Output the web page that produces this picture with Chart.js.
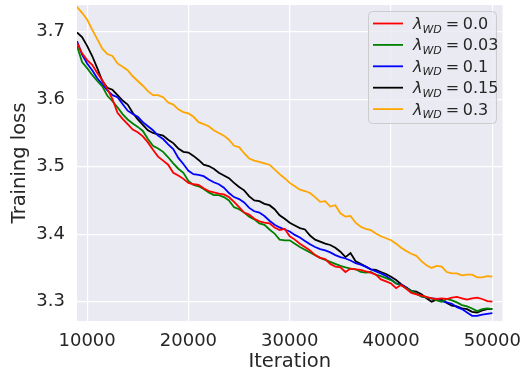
<!DOCTYPE html>
<html>
<head>
<meta charset="utf-8">
<script src="https://cdn.jsdelivr.net/npm/chart.js@4"></script>
<style>
  html, body { margin: 0; padding: 0; background: #ffffff; }
  #wrap { width: 522px; height: 374px; }
</style>
</head>
<body>
<div id="wrap"><canvas id="lossChart" width="522" height="374"></canvas></div>
<script>
// training iterations (shared by every run)
const iterations = [
  9000, 9500, 10000, 10500, 11000, 11500, 12000, 12500, 13000, 13500,
  14000, 14500, 15000, 15500, 16000, 16500, 17000, 17500, 18000, 18500,
  19000, 19500, 20000, 20500, 21000, 21500, 22000, 22500, 23000, 23500,
  24000, 24500, 25000, 25500, 26000, 26500, 27000, 27500, 28000, 28500,
  29000, 29500, 30000, 30500, 31000, 31500, 32000, 32500, 33000, 33500,
  34000, 34500, 35000, 35500, 36000, 36500, 37000, 37500, 38000, 38500,
  39000, 39500, 40000, 40500, 41000, 41500, 42000, 42500, 43000, 43500,
  44000, 44500, 45000, 45500, 46000, 46500, 47000, 47500, 48000, 48500,
  49000, 49500, 50000
];

// training loss per weight decay value
const lossWd0 = [
  3.684, 3.668, 3.658, 3.651, 3.639, 3.628, 3.615, 3.600, 3.580, 3.571,
  3.563, 3.555, 3.551, 3.545, 3.536, 3.525, 3.515, 3.509, 3.503, 3.491,
  3.487, 3.482, 3.476, 3.474, 3.473, 3.468, 3.464, 3.462, 3.460, 3.459,
  3.455, 3.448, 3.440, 3.432, 3.429, 3.423, 3.419, 3.417, 3.416, 3.410,
  3.406, 3.408, 3.397, 3.392, 3.386, 3.381, 3.376, 3.369, 3.365, 3.363,
  3.356, 3.352, 3.351, 3.344, 3.349, 3.348, 3.347, 3.345, 3.343, 3.340,
  3.333, 3.330, 3.327, 3.320, 3.325, 3.319, 3.313, 3.311, 3.309, 3.307,
  3.305, 3.304, 3.305, 3.304, 3.306, 3.307, 3.305, 3.303, 3.305, 3.306,
  3.304, 3.301, 3.300
];
const lossWd003 = [
  3.679, 3.655, 3.646, 3.636, 3.627, 3.619, 3.605, 3.597, 3.588, 3.578,
  3.570, 3.564, 3.559, 3.553, 3.541, 3.531, 3.527, 3.522, 3.514, 3.505,
  3.497, 3.491, 3.479, 3.473, 3.471, 3.467, 3.462, 3.458, 3.458, 3.455,
  3.450, 3.440, 3.437, 3.432, 3.426, 3.422, 3.416, 3.414, 3.407, 3.401,
  3.392, 3.391, 3.391, 3.386, 3.381, 3.377, 3.373, 3.369, 3.365, 3.362,
  3.359, 3.356, 3.353, 3.351, 3.349, 3.348, 3.344, 3.343, 3.344, 3.340,
  3.338, 3.335, 3.332, 3.327, 3.324, 3.320, 3.316, 3.312, 3.308, 3.306,
  3.305, 3.302, 3.300, 3.304, 3.302, 3.299, 3.295, 3.293, 3.290, 3.286,
  3.289, 3.290, 3.289
];
const lossWd01 = [
  3.686, 3.666, 3.653, 3.643, 3.631, 3.622, 3.613, 3.606, 3.603, 3.593,
  3.583, 3.578, 3.574, 3.566, 3.560, 3.554, 3.546, 3.541, 3.533, 3.526,
  3.513, 3.504, 3.494, 3.489, 3.488, 3.486, 3.481, 3.477, 3.474, 3.469,
  3.461, 3.455, 3.452, 3.447, 3.439, 3.434, 3.432, 3.427, 3.420, 3.414,
  3.410, 3.407, 3.404, 3.399, 3.395, 3.390, 3.385, 3.381, 3.378, 3.376,
  3.373, 3.369, 3.366, 3.364, 3.361, 3.357, 3.355, 3.352, 3.348, 3.345,
  3.342, 3.338, 3.333, 3.327, 3.325, 3.321, 3.316, 3.312, 3.308, 3.306,
  3.305, 3.304, 3.301, 3.299, 3.297, 3.292, 3.289, 3.284, 3.279, 3.279,
  3.281, 3.282, 3.283
];
const lossWd015 = [
  3.699, 3.692, 3.679, 3.664, 3.646, 3.627, 3.617, 3.614, 3.606, 3.598,
  3.592, 3.580, 3.570, 3.562, 3.554, 3.550, 3.548, 3.546, 3.540, 3.535,
  3.527, 3.522, 3.521, 3.516, 3.510, 3.503, 3.501, 3.497, 3.491, 3.487,
  3.483, 3.476, 3.470, 3.465, 3.456, 3.450, 3.449, 3.445, 3.443, 3.437,
  3.428, 3.423, 3.417, 3.413, 3.409, 3.407, 3.398, 3.392, 3.389, 3.386,
  3.384, 3.380, 3.374, 3.366, 3.372, 3.360, 3.356, 3.352, 3.348, 3.347,
  3.344, 3.341, 3.337, 3.332, 3.326, 3.321, 3.316, 3.315, 3.311, 3.305,
  3.300, 3.303, 3.303, 3.298, 3.294, 3.293, 3.290, 3.289, 3.285, 3.284,
  3.287, 3.289, 3.289
];
const lossWd03 = [
  3.737, 3.728, 3.718, 3.703, 3.689, 3.675, 3.667, 3.664, 3.653, 3.648,
  3.643, 3.634, 3.627, 3.620, 3.612, 3.606, 3.606, 3.603, 3.595, 3.592,
  3.585, 3.581, 3.579, 3.574, 3.566, 3.563, 3.560, 3.554, 3.550, 3.546,
  3.540, 3.531, 3.529, 3.520, 3.512, 3.509, 3.507, 3.505, 3.503, 3.496,
  3.489, 3.483, 3.476, 3.471, 3.466, 3.464, 3.461, 3.455, 3.448, 3.449,
  3.441, 3.443, 3.431, 3.426, 3.427, 3.417, 3.411, 3.408, 3.406, 3.401,
  3.397, 3.394, 3.391, 3.386, 3.380, 3.375, 3.371, 3.368, 3.360, 3.354,
  3.350, 3.353, 3.352, 3.344, 3.342, 3.342, 3.339, 3.340, 3.340, 3.336,
  3.336, 3.338, 3.337
];

const wdValues = ["0.0", "0.03", "0.1", "0.15", "0.3"];
const lineColors = ["#ff0000", "#008000", "#0000ff", "#000000", "#ffa500"];
const xTicks = [10000, 20000, 30000, 40000, 50000];
const yTicks = [3.3, 3.4, 3.5, 3.6, 3.7];

const series = [lossWd0, lossWd003, lossWd01, lossWd015, lossWd03];
const textColor = "#262626";

// grey plot background like seaborn's darkgrid
const plotBackground = {
  id: "plotBackground",
  beforeDraw(chart) {
    const { ctx, chartArea: a } = chart;
    ctx.save();
    ctx.fillStyle = "#eaeaf2";
    ctx.fillRect(a.left, a.top, a.right - a.left, a.bottom - a.top);
    ctx.restore();
  },
};

// legend with italic lambda and "WD" subscript
const mathLegend = {
  id: "mathLegend",
  afterDraw(chart) {
    const ctx = chart.ctx;
    const boxX = 368, boxY = 11, boxW = 128, boxH = 112;
    ctx.save();
    ctx.beginPath();
    ctx.roundRect(boxX + 0.5, boxY + 0.5, boxW, boxH, 4);
    ctx.fillStyle = "rgba(234,234,242,0.8)";
    ctx.fill();
    ctx.strokeStyle = "#cccccc";
    ctx.lineWidth = 1;
    ctx.stroke();

    chart.data.datasets.forEach((ds, i) => {
      const y = boxY + 12.5 + i * 21.4;
      ctx.beginPath();
      ctx.moveTo(373, y);
      ctx.lineTo(403, y);
      ctx.strokeStyle = ds.borderColor;
      ctx.lineWidth = 1.8;
      ctx.stroke();

      ctx.fillStyle = textColor;
      ctx.textBaseline = "alphabetic";
      ctx.textAlign = "left";
      const base = y + 5.5;
      let x = 413;
      ctx.font = "italic 16px 'DejaVu Sans'";
      ctx.fillText("\u03bb", x, base);
      x += ctx.measureText("\u03bb").width;
      ctx.font = "italic 11px 'DejaVu Sans'";
      ctx.fillText("WD", x, base + 3.5);
      x += ctx.measureText("WD").width + 4;
      ctx.font = "16px 'DejaVu Sans'";
      ctx.fillText("=", x, base);
      x += ctx.measureText("=").width + 3.5;
      ctx.fillText(wdValues[i], x, base);
    });
    ctx.restore();
  },
};

const ctx = document.getElementById("lossChart");

new Chart(ctx, {
  type: "line",
  data: {
    datasets: series.map((vals, i) => ({
      label: "\u03bb_WD = " + wdValues[i],
      data: iterations.map((it, j) => ({ x: it, y: vals[j] })),
      borderColor: lineColors[i],
      backgroundColor: lineColors[i],
      borderWidth: 1.8,
      pointRadius: 0,
      tension: 0,
      fill: false,
    })),
  },
  options: {
    responsive: false,
    animation: false,
    layout: { padding: { left: 0, right: 19.5, top: 5, bottom: 0 } },
    plugins: {
      legend: { display: false },
      tooltip: { enabled: false },
    },
    scales: {
      x: {
        type: "linear",
        min: 9000,
        max: 51000,
        afterBuildTicks: (scale) => {
          scale.ticks = xTicks.map((v) => ({ value: v }));
        },
        afterFit: (scale) => {
          scale.height = 53;
          scale.paddingLeft = 0;
          scale.paddingRight = 0;
        },
        border: { display: false },
        grid: { color: "#ffffff", lineWidth: 1.2, drawTicks: false },
        ticks: {
          color: textColor,
          font: { family: "'DejaVu Sans'", size: 18 },
          padding: 10,
          maxRotation: 0,
          callback: (v) => String(v),
        },
        title: {
          display: true,
          text: "Iteration",
          color: textColor,
          font: { family: "'DejaVu Sans'", size: 19.5 },
          padding: { top: 0, bottom: 0 },
        },
      },
      y: {
        min: 3.2714,
        max: 3.7396,
        afterBuildTicks: (scale) => {
          scale.ticks = yTicks.map((v) => ({ value: v }));
        },
        afterFit: (scale) => {
          scale.width = 77;
          scale.paddingTop = 0;
          scale.paddingBottom = 0;
        },
        border: { display: false },
        grid: { color: "#ffffff", lineWidth: 1.2, drawTicks: false },
        ticks: {
          color: textColor,
          font: { family: "'DejaVu Sans'", size: 18 },
          padding: 12,
          callback: (v) => v.toFixed(1),
        },
        title: {
          display: true,
          text: "Training loss",
          color: textColor,
          font: { family: "'DejaVu Sans'", size: 19.5 },
          padding: { top: 8, bottom: 0 },
        },
      },
    },
  },
  plugins: [plotBackground, mathLegend],
});
</script>
</body>
</html>
